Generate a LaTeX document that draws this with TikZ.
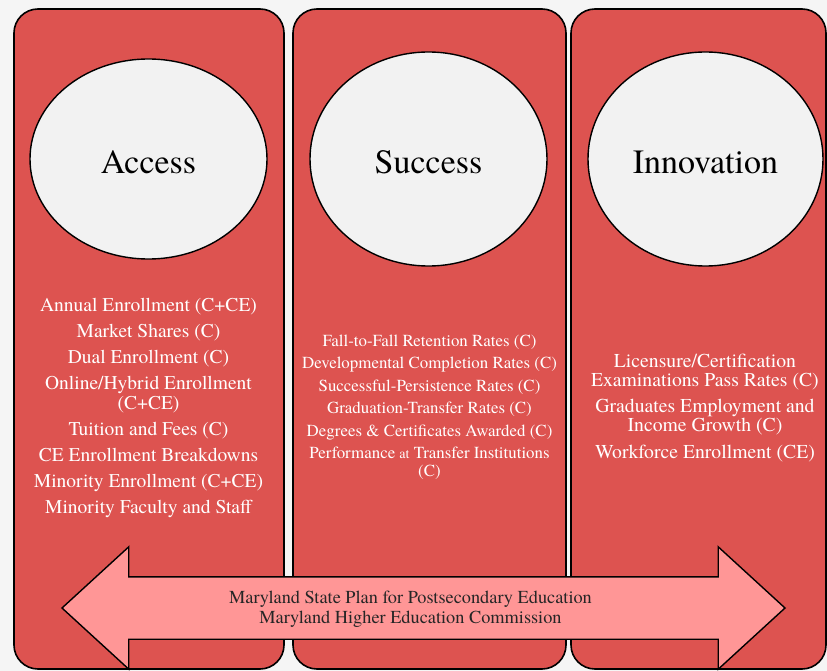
\documentclass[tikz,border=0pt]{standalone}
\usepackage{fontspec}
\setmainfont{TeX Gyre Termes}
\usetikzlibrary{shapes.geometric,shapes.arrows}

\definecolor{pillarred}{RGB}{221,83,80}
\definecolor{ovalgrey}{RGB}{242,242,242}
\definecolor{planpink}{RGB}{255,150,150}
\definecolor{bggrey}{RGB}{245,245,245}

\tikzset{
	pillar/.style={draw=black, line width=1.6pt, fill=pillarred, rounded corners=24pt,
		minimum height=660pt, inner sep=0pt},
	goal/.style={ellipse, draw=black, line width=1.4pt, fill=ovalgrey, inner sep=0pt,
		text height=29pt, text depth=0pt, font=\fontsize{34}{40}\selectfont},
	measures/.style={text=white, align=center, inner sep=0pt},
	planarrow/.style={double arrow, draw=black, line width=1.4pt, fill=planpink,
		double arrow tip angle=85, double arrow head extend=30pt,
		minimum height=723pt, inner xsep=0pt, inner ysep=30.5pt}
}

\begin{document}
	\begin{tikzpicture}[x=1pt, y=-1pt]
		% Bakgrunn
		\fill[bggrey] (0,0) rectangle (827,671);
		\useasboundingbox (0,0) rectangle (827,671);

		% Tre søyler
		\node[pillar, minimum width=270pt] (access) at (149,339) {};
		\node[pillar, minimum width=273pt] (success) at (429.5,339) {};
		\node[pillar, minimum width=255pt] (innovation) at (698.5,339) {};

		% Mål i ellipser
		\node[goal, minimum width=237pt, minimum height=200pt] (accessgoal) at (148.5,159) {Access};
		\node[goal, minimum width=237pt, minimum height=214pt] (successgoal) at (428.5,159) {Success};
		\node[goal, minimum width=235pt, minimum height=214pt] (innovationgoal) at (705.5,159) {Innovation};

		% Indikatorer under hvert mål
		\node[measures, font=\fontsize{19.5}{20}\selectfont] (accesslist) at (148.5,407.5) {
			Annual Enrollment (C+CE)\\[6pt]
			Market Shares (C)\\[6pt]
			Dual Enrollment (C)\\[6pt]
			Online/Hybrid Enrollment\\(C+CE)\\[6pt]
			Tuition and Fees (C)\\[6pt]
			CE Enrollment Breakdowns\\[6pt]
			Minority Enrollment (C+CE)\\[6pt]
			Minority Faculty and Staff};
		\node[measures, font=\fontsize{16.9}{17.5}\selectfont] (successlist) at (429.5,407) {
			Fall-to-Fall Retention Rates (C)\\[5pt]
			Developmental Completion Rates (C)\\[5pt]
			Successful-Persistence Rates (C)\\[5pt]
			Graduation-Transfer Rates (C)\\[5pt]
			Degrees \& Certificates Awarded (C)\\[5pt]
			Performance {\fontsize{14}{17.5}\selectfont at} Transfer Institutions\\(C)};
		\node[measures, font=\fontsize{19.7}{19}\selectfont] (innovationlist) at (705,408) {
			Licensure/Certification\\Examinations Pass Rates (C)\\[7.5pt]
			Graduates Employment and\\Income Growth (C)\\[7.5pt]
			Workforce Enrollment (CE)};

		% Dobbeltpil for statsplanen
		\node[planarrow] (plan) at (423.5,608) {};
		\node[align=center, text=black!85, font=\fontsize{18.3}{19.5}\selectfont] (plantext) at (410.5,609)
			{Maryland State Plan for Postsecondary Education\\Maryland Higher Education Commission};
	\end{tikzpicture}
\end{document}
